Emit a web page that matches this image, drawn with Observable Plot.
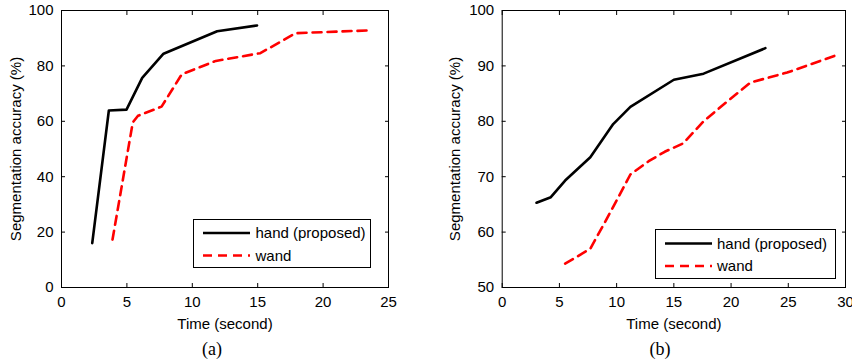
<!DOCTYPE html>
<html>
<head>
<meta charset="utf-8">
<script src="https://cdn.jsdelivr.net/npm/d3@7"></script>
<script src="https://cdn.jsdelivr.net/npm/@observablehq/plot@0.6"></script>
<style>
  html, body { margin: 0; padding: 0; background: white; }
  #wrap { position: relative; width: 852px; height: 364px; overflow: hidden; font-family: "Liberation Sans", Arial, sans-serif; }
  .panel { position: absolute; top: 0; }
  .panel text { font-weight: normal; }
  .cap { position: absolute; font-family: "Liberation Serif", "Times New Roman", serif; font-size: 18px; transform: translate(-50%, -50%); white-space: nowrap; }
  .legend { position: absolute; border: 1px solid black; background: white; box-sizing: border-box; }
  .legend svg { display: block; }
</style>
</head>
<body>
<div id="wrap"></div>
<script>
// ---- data ----
const seriesNames = ["hand (proposed)", "wand"];
const panelCaptions = ["(a)", "(b)"];
const xLabel = "Time (second)";
const yLabel = "Segmentation accuracy (%)";

// panel (a)
const handA_time = [2.35, 3.62, 4.97, 6.17, 7.8, 11.9, 14.95];
const handA_acc  = [16.0, 63.9, 64.2, 75.7, 84.4, 92.5, 94.6];
const wandA_time = [3.9, 5.45, 5.85, 7.65, 9.2, 11.8, 15.2, 17.9, 23.4];
const wandA_acc  = [17.3, 59.6, 62.0, 65.3, 77.0, 81.8, 84.6, 91.8, 92.8];
const xTicksA = [0, 5, 10, 15, 20, 25];
const yTicksA = [0, 20, 40, 60, 80, 100];

// panel (b)
const handB_time = [3.0, 4.25, 5.5, 7.7, 9.7, 11.2, 15.0, 17.6, 23.0];
const handB_acc  = [65.3, 66.3, 69.3, 73.5, 79.5, 82.6, 87.5, 88.6, 93.2];
const wandB_time = [5.5, 7.7, 8.9, 10.0, 11.2, 12.8, 14.2, 15.8, 17.6, 19.5, 21.7, 24.9, 29.3];
const wandB_acc  = [54.3, 57.0, 61.5, 65.7, 70.4, 72.8, 74.5, 76.0, 80.0, 83.3, 87.0, 88.8, 92.0];
const xTicksB = [0, 5, 10, 15, 20, 25, 30];
const yTicksB = [50, 60, 70, 80, 90, 100];

const toRows = (t, a) => t.map((v, i) => ({time: v, acc: a[i]}));

function panel({hand, wand, xDomain, yDomain, xTicks, yTicks, width, marginLeft, marginRight, yLabelOffset}) {
  return Plot.plot({
    width, height: 332,
    marginTop: 10, marginBottom: 45, marginLeft, marginRight,
    style: {fontFamily: '"Liberation Sans", Arial, sans-serif', fontSize: "15px", color: "black", background: "white", overflow: "visible"},
    x: {domain: xDomain},
    y: {domain: yDomain},
    marks: [
      Plot.axisX({ticks: xTicks, tickSize: -4, tickPadding: 13, label: xLabel, labelAnchor: "center", labelOffset: 41, labelArrow: "none", fontWeight: "normal"}),
      Plot.axisX({anchor: "top", ticks: xTicks, tickSize: -4, tickFormat: () => "", label: null}),
      Plot.axisY({ticks: yTicks, tickSize: -4, tickPadding: 12, label: yLabel, labelAnchor: "center", labelOffset: yLabelOffset, labelArrow: "none", fontWeight: "normal"}),
      Plot.axisY({anchor: "right", ticks: yTicks, tickSize: -4, tickFormat: () => "", label: null}),
      Plot.frame({stroke: "black", strokeWidth: 1}),
      Plot.line(hand, {x: "time", y: "acc", stroke: "black", strokeWidth: 2.6}),
      Plot.line(wand, {x: "time", y: "acc", stroke: "#ff0000", strokeWidth: 2.6, strokeDasharray: "9,6"})
    ]
  });
}

const wrap = document.getElementById("wrap");

function addPanel(left, svg) {
  const d = document.createElement("div");
  d.className = "panel";
  d.style.left = left + "px";
  d.appendChild(svg);
  wrap.appendChild(d);
}

addPanel(0, panel({
  hand: toRows(handA_time, handA_acc), wand: toRows(wandA_time, wandA_acc),
  xDomain: [0, 25], yDomain: [0, 100], xTicks: xTicksA, yTicks: yTicksA,
  width: 426, marginLeft: 61, marginRight: 38, yLabelOffset: 51
}));
addPanel(426, panel({
  hand: toRows(handB_time, handB_acc), wand: toRows(wandB_time, wandB_acc),
  xDomain: [0, 30], yDomain: [50, 100], xTicks: xTicksB, yTicks: yTicksB,
  width: 426, marginLeft: 75.7, marginRight: 7, yLabelOffset: 52.5
}));

function addLegend(left, top, w, h, lineX0, lineX1, rowY, textX) {
  const d = document.createElement("div");
  d.className = "legend";
  Object.assign(d.style, {left: left + "px", top: top + "px", width: w + "px", height: h + "px"});
  const ns = "http://www.w3.org/2000/svg";
  const svg = document.createElementNS(ns, "svg");
  svg.setAttribute("width", w - 2); svg.setAttribute("height", h - 2);
  seriesNames.forEach((name, i) => {
    const ln = document.createElementNS(ns, "line");
    ln.setAttribute("x1", lineX0); ln.setAttribute("x2", lineX1);
    ln.setAttribute("y1", rowY[i]); ln.setAttribute("y2", rowY[i]);
    ln.setAttribute("stroke", i === 0 ? "black" : "#ff0000");
    ln.setAttribute("stroke-width", 2.6);
    if (i === 1) ln.setAttribute("stroke-dasharray", "9,6");
    svg.appendChild(ln);
    const tx = document.createElementNS(ns, "text");
    tx.setAttribute("x", textX); tx.setAttribute("y", rowY[i]);
    tx.setAttribute("dy", "0.35em");
    tx.setAttribute("font-family", '"Liberation Sans", Arial, sans-serif');
    tx.setAttribute("font-size", "15px");
    tx.textContent = name;
    svg.appendChild(tx);
  });
  d.appendChild(svg);
  wrap.appendChild(d);
}
// positions relative to legend box (box-local coordinates)
addLegend(193, 219, 178, 49, 9, 56, [13, 35.5], 61.5);
addLegend(655, 229, 181, 50, 9, 56, [13.5, 36], 61);

function addCaption(text, cx, cy) {
  const c = document.createElement("div");
  c.className = "cap";
  c.style.left = cx + "px"; c.style.top = cy + "px";
  c.textContent = text;
  wrap.appendChild(c);
}
addCaption(panelCaptions[0], 212, 349);
addCaption(panelCaptions[1], 660, 349);
</script>
</body>
</html>
